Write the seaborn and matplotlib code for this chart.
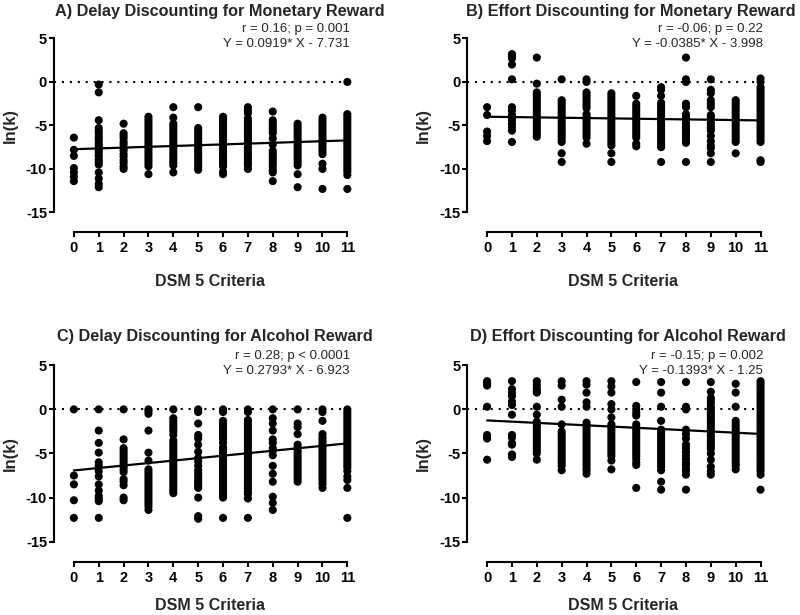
import numpy as np
import pandas as pd
import matplotlib
matplotlib.use('Agg')
import matplotlib.pyplot as plt
import seaborn as sns

# DSM-5 criteria count on x, ln(k) values
criteria = list(range(12))

delay_money = [
    [-6.4, -7.8, -8.5, -9.9, -10.4, -10.9, -11.4],
    [-0.3, -1.2, -4.4, -5.3, -5.6, -5.9, -6.3, -6.6, -7.0, -7.3, -7.6, -7.9, -8.2, -8.5, -8.9, -9.2, -9.5, -10.4, -11.1, -11.7, -12.1],
    [-4.8, -5.9, -6.2, -6.5, -6.9, -7.2, -7.6, -7.9, -8.3, -8.6, -9.0, -9.3, -9.7, -10.0],
    [-4.0, -4.3, -4.6, -4.9, -5.2, -5.5, -5.8, -6.1, -6.4, -6.7, -7.0, -7.3, -7.6, -7.9, -8.2, -8.5, -8.8, -9.1, -9.4, -9.7, -10.6],
    [-2.9, -4.1, -4.8, -5.1, -5.4, -5.7, -6.0, -6.3, -6.6, -6.9, -7.2, -7.5, -7.8, -8.1, -8.4, -8.7, -9.0, -9.3, -9.6, -10.4],
    [-2.9, -5.3, -5.6, -5.9, -6.2, -6.5, -6.8, -7.1, -7.4, -7.7, -8.0, -8.3, -8.6, -8.9, -9.2, -9.5, -9.8, -10.1],
    [-4.0, -4.3, -4.6, -4.9, -5.2, -5.5, -5.8, -6.1, -6.4, -6.7, -7.0, -7.3, -7.6, -7.9, -8.2, -8.5, -8.8, -9.1, -9.4, -9.7, -10.3, -10.6],
    [-2.9, -3.3, -3.6, -4.2, -4.5, -4.8, -5.1, -5.4, -5.7, -6.0, -6.3, -6.6, -6.9, -7.2, -7.5, -7.8, -8.1, -8.4, -8.7, -9.0, -9.3, -9.6, -10.0],
    [-3.4, -4.4, -4.7, -5.0, -5.3, -5.6, -5.9, -6.5, -7.2, -7.9, -8.2, -8.5, -8.8, -9.1, -9.4, -9.7, -10.1, -10.4, -11.4],
    [-4.8, -5.1, -5.4, -5.7, -6.0, -6.3, -6.6, -6.9, -7.2, -7.5, -7.8, -8.1, -8.4, -8.7, -9.0, -9.3, -9.6, -10.6, -12.1],
    [-4.1, -4.4, -4.7, -5.0, -5.3, -5.6, -5.9, -6.2, -6.5, -6.8, -7.1, -7.4, -7.7, -8.0, -8.3, -9.4, -10.0, -12.3],
    [0.0, -3.7, -4.0, -4.3, -4.6, -4.9, -5.2, -5.5, -5.8, -6.1, -6.4, -6.7, -7.0, -7.3, -7.6, -7.9, -8.2, -8.5, -8.8, -9.1, -9.4, -9.7, -10.0, -10.3, -10.7, -12.3],
]

effort_money = [
    [-2.9, -3.8, -5.7, -6.2, -6.8],
    [3.2, 3.0, 2.7, 2.0, 0.3, -2.9, -3.3, -3.8, -4.1, -4.4, -4.8, -5.2, -5.6, -6.9],
    [2.8, -0.2, -1.2, -1.5, -1.8, -2.1, -2.4, -2.7, -3.0, -3.3, -3.6, -3.9, -4.2, -4.5, -4.8, -5.1, -5.4, -5.7, -6.0, -6.3],
    [0.3, -2.1, -2.4, -2.7, -3.0, -3.3, -3.6, -3.9, -4.2, -4.5, -4.8, -5.1, -5.4, -5.7, -6.0, -6.3, -6.6, -6.9, -8.2, -9.2],
    [0.3, 0.0, -1.2, -1.5, -1.8, -2.1, -2.4, -2.7, -3.0, -3.7, -4.0, -4.3, -4.6, -4.9, -5.2, -5.5, -5.8, -6.1, -6.4, -7.1],
    [-1.3, -1.6, -1.9, -2.2, -2.5, -2.8, -3.1, -3.4, -3.7, -4.0, -4.3, -4.6, -4.9, -5.2, -5.5, -5.8, -6.1, -6.4, -6.7, -7.0, -7.3, -8.2, -9.2],
    [-1.6, -2.5, -2.8, -3.1, -3.4, -3.7, -4.0, -4.3, -4.6, -4.9, -5.2, -5.5, -5.8, -6.1, -6.4, -7.1, -7.4],
    [-0.6, -0.9, -1.6, -2.4, -2.7, -3.0, -3.3, -3.6, -3.9, -4.2, -4.5, -4.8, -5.1, -5.4, -5.7, -6.0, -6.3, -6.6, -6.9, -7.2, -7.5, -9.2],
    [2.8, 0.3, 0.0, -2.5, -2.9, -3.7, -4.0, -4.3, -4.6, -4.9, -5.2, -5.5, -5.8, -6.1, -6.4, -6.7, -7.0, -9.2],
    [0.3, -0.9, -1.3, -2.1, -2.5, -2.9, -3.8, -4.1, -4.4, -4.7, -5.0, -5.3, -5.6, -6.2, -6.8, -7.3, -7.6, -8.2, -9.2],
    [-2.1, -2.4, -2.7, -3.0, -3.3, -3.6, -3.9, -4.2, -4.5, -4.8, -5.1, -5.4, -5.7, -6.0, -6.3, -6.6, -6.9, -8.2],
    [0.4, 0.0, -0.6, -0.9, -1.2, -1.5, -1.8, -2.1, -2.4, -2.7, -3.0, -3.3, -3.6, -3.9, -4.2, -4.5, -4.8, -5.1, -5.4, -5.7, -6.0, -6.3, -6.6, -6.9, -9.0, -9.2],
]

delay_alcohol = [
    [0.0, -7.5, -8.5, -10.3, -12.3],
    [0.0, -2.4, -3.8, -4.9, -6.0, -6.4, -7.0, -7.6, -8.5, -9.2, -9.8, -10.1, -10.4, -12.3],
    [0.0, -3.4, -4.4, -4.7, -5.0, -5.3, -5.6, -5.9, -6.2, -6.5, -6.8, -7.1, -7.9, -8.2, -8.6, -10.0, -10.3],
    [0.0, -0.2, -0.5, -2.4, -4.9, -5.8, -6.8, -7.1, -7.4, -7.7, -8.0, -8.3, -8.6, -8.9, -9.2, -9.5, -9.8, -10.1, -10.4, -10.7, -11.0, -11.4],
    [0.0, -1.0, -1.3, -1.6, -1.9, -2.2, -2.5, -2.9, -3.5, -3.8, -4.1, -4.4, -4.7, -5.0, -5.3, -5.6, -5.9, -6.2, -6.5, -6.8, -7.1, -7.4, -7.7, -8.0, -8.3, -8.6, -8.9, -9.2, -9.5],
    [0.0, -0.3, -1.6, -2.9, -3.3, -4.0, -4.8, -5.5, -5.9, -6.4, -6.9, -7.2, -7.5, -7.8, -8.1, -8.4, -8.7, -8.9, -10.0, -12.1, -12.4],
    [0.0, -0.3, -1.3, -1.6, -1.9, -2.2, -2.5, -2.8, -3.1, -3.4, -3.8, -4.3, -4.6, -4.9, -5.2, -5.5, -5.8, -6.1, -6.4, -6.7, -7.0, -7.3, -7.6, -7.9, -8.2, -8.5, -8.8, -9.1, -9.4, -9.7, -10.0, -12.3],
    [0.0, -0.3, -1.2, -1.5, -1.8, -2.1, -2.4, -2.7, -3.0, -3.3, -3.6, -3.9, -4.2, -4.5, -4.8, -5.1, -5.4, -5.7, -6.0, -6.3, -6.6, -6.9, -7.2, -7.5, -7.8, -8.1, -8.4, -8.7, -9.0, -9.3, -9.6, -10.1, -12.3],
    [0.0, -1.0, -1.6, -2.4, -3.4, -3.8, -4.4, -4.7, -5.2, -6.4, -7.3, -8.2, -9.9, -10.6, -11.4],
    [0.0, -1.6, -2.0, -2.8, -4.0, -4.3, -4.6, -4.9, -5.2, -5.5, -5.8, -6.1, -6.4, -6.7, -7.0, -7.3, -7.6, -7.9, -8.2],
    [0.0, -0.3, -1.3, -2.8, -3.1, -3.4, -3.7, -4.0, -4.3, -4.6, -4.9, -5.2, -5.5, -5.8, -6.1, -6.4, -6.7, -7.0, -7.3, -7.6, -7.9, -8.2, -8.5, -8.9],
    [0.0, -0.3, -0.6, -0.9, -1.2, -1.5, -1.8, -2.1, -2.4, -2.7, -3.0, -3.3, -3.6, -3.9, -4.2, -4.5, -4.8, -5.1, -5.4, -5.7, -6.0, -6.3, -6.6, -7.0, -7.6, -8.0, -8.9, -12.3],
]

effort_alcohol = [
    [3.2, 2.9, 2.7, 0.3, -2.9, -3.1, -3.3, -5.7],
    [3.2, 2.3, 1.9, 1.5, 0.9, 0.5, -0.6, -2.9, -3.2, -3.8, -4.0, -5.1, -5.4],
    [3.2, 2.8, 2.4, 2.1, 1.9, 0.3, -0.6, -1.4, -1.7, -2.0, -2.3, -2.6, -2.9, -3.2, -3.5, -3.8, -4.1, -4.4, -4.7, -5.0, -5.7],
    [3.2, 2.7, 1.1, 0.3, -1.7, -2.5, -2.8, -3.1, -3.4, -3.7, -4.0, -4.3, -4.6, -4.9, -5.2, -5.5, -5.8, -6.1, -6.4, -6.9],
    [3.2, 2.8, 1.9, 0.8, 0.3, -1.5, -1.8, -2.1, -2.4, -2.7, -3.0, -3.3, -3.6, -3.9, -4.2, -4.5, -4.8, -5.1, -5.4, -5.7, -6.0, -6.3, -6.6, -6.9, -7.3],
    [3.2, 2.6, 1.9, 0.6, 0.0, -0.9, -1.7, -2.0, -2.3, -2.6, -2.9, -3.2, -3.5, -3.8, -4.1, -4.4, -4.7, -5.0, -5.3, -5.8, -6.8],
    [3.1, 0.4, 0.0, -0.4, -0.7, -1.7, -2.0, -2.3, -2.6, -2.9, -3.2, -3.5, -3.8, -4.1, -4.4, -4.7, -5.0, -5.3, -5.6, -6.0, -6.3, -8.9],
    [3.1, 1.9, 0.3, -1.3, -2.3, -2.6, -2.9, -3.2, -3.5, -3.8, -4.1, -4.4, -4.7, -5.0, -5.3, -5.6, -5.9, -6.2, -6.5, -6.9, -8.2, -9.1],
    [3.1, 0.3, 0.0, -2.3, -2.8, -3.3, -4.0, -4.4, -4.8, -5.2, -5.6, -6.0, -6.3, -6.7, -7.0, -7.4, -9.1],
    [3.1, 2.0, 1.3, 1.0, 0.7, 0.3, 0.0, -0.3, -0.6, -0.9, -1.2, -1.5, -1.8, -2.1, -2.4, -2.7, -3.0, -3.3, -3.6, -3.9, -4.2, -4.5, -5.0, -5.7, -6.5, -7.0, -7.4],
    [2.9, 1.9, 0.3, -1.3, -1.6, -1.9, -2.2, -2.5, -2.8, -3.1, -3.4, -3.7, -4.0, -4.3, -4.6, -4.9, -5.2, -5.5, -5.8, -6.1, -6.4, -6.8],
    [3.2, 2.9, 2.6, 2.3, 2.0, 1.7, 1.4, 1.1, 0.8, 0.5, 0.2, -0.1, -0.4, -0.7, -1.0, -1.3, -1.6, -1.9, -2.2, -2.5, -2.8, -3.1, -3.4, -3.7, -4.0, -4.3, -4.6, -4.9, -5.2, -5.5, -5.8, -6.1, -6.4, -6.7, -7.0, -7.4, -9.1],
]

titles = ['A) Delay Discounting for Monetary Reward',
          'B) Effort Discounting for Monetary Reward',
          'C) Delay Discounting for Alcohol Reward',
          'D) Effort Discounting for Alcohol Reward']
stats_text = ['r = 0.16; p = 0.001', 'r = -0.06; p = 0.22',
              'r = 0.28; p < 0.0001', 'r = -0.15; p = 0.002']
eq_text = ['Y = 0.0919* X - 7.731', 'Y = -0.0385* X - 3.998',
           'Y = 0.2793* X - 6.923', 'Y = -0.1393* X - 1.25']
slopes = [0.0919, -0.0385, 0.2793, -0.1393]
intercepts = [-7.731, -3.998, -6.923, -1.25]

sns.set_style('ticks')
plt.rcParams['font.family'] = ['Liberation Sans', 'DejaVu Sans']
plt.rcParams['axes.unicode_minus'] = False

fig = plt.figure(figsize=(8, 6.15), dpi=100)
# [left, bottom, width, height] in figure fractions
positions = [[0.0675, 0.622, 0.376, 0.3226],
             [0.584, 0.622, 0.376, 0.3226],
             [0.0675, 0.0862, 0.376, 0.327],
             [0.584, 0.0862, 0.376, 0.327]]
title_x = [0.55, 0.545, 0.535, 0.535]

panels = [delay_money, effort_money, delay_alcohol, effort_alcohol]
for i, cols in enumerate(panels):
    ax = fig.add_axes(positions[i])
    rows = [(c, v) for c, vals in zip(criteria, cols) for v in vals]
    df = pd.DataFrame(rows, columns=['criteria', 'lnk'])

    ax.plot([-0.8, 11], [0, 0], color='black', lw=1.5, linestyle=(0, (1, 2.8)), zorder=1)
    sns.scatterplot(data=df, x='criteria', y='lnk', ax=ax, color='black', s=34,
                    edgecolor='none', linewidth=0, legend=False, zorder=3)
    fit = pd.DataFrame({'x': [0, 11],
                        'y': [intercepts[i], intercepts[i] + slopes[i] * 11]})
    sns.lineplot(data=fit, x='x', y='y', ax=ax, color='black', lw=1.6, zorder=4)

    ax.set_xlim(-0.8, 11.3)
    ax.set_ylim(-17.3, 5.5)
    ax.set_xticks(criteria)
    ax.set_yticks([5, 0, -5, -10, -15])
    ax.spines['top'].set_visible(False)
    ax.spines['right'].set_visible(False)
    ax.spines['left'].set_bounds(-15, 5)
    ax.spines['bottom'].set_bounds(0, 11)
    for s in ['left', 'bottom']:
        ax.spines[s].set_linewidth(1.5)
        ax.spines[s].set_color('black')
    ax.tick_params(axis='both', width=1.5, length=3.5, labelsize=10.5, colors='black')
    ax.tick_params(axis='y', pad=1.5)
    ax.tick_params(axis='x', pad=3)
    for lab in ax.get_xticklabels() + ax.get_yticklabels():
        lab.set_fontweight('bold')

    ax.set_xlabel('DSM 5 Criteria', fontsize=11.5, fontweight='bold')
    ax.set_ylabel('ln(k)', fontsize=12, fontweight='bold')
    ax.yaxis.set_label_coords(-0.12, 0.54)
    ax.xaxis.set_label_coords(0.518, -0.21 if i < 2 else -0.18)

    ax.text(title_x[i], 1.09 if i < 2 else 1.1, titles[i], transform=ax.transAxes,
            ha='center', va='baseline', fontsize=11.7, fontweight='bold')
    ax.text(11.1, 5.75, stats_text[i], ha='right', va='baseline', fontsize=9.5, clip_on=False)
    ax.text(11.1, 3.97, eq_text[i], ha='right', va='baseline', fontsize=9.5, clip_on=False)

fig.savefig('out.png', dpi=100)
